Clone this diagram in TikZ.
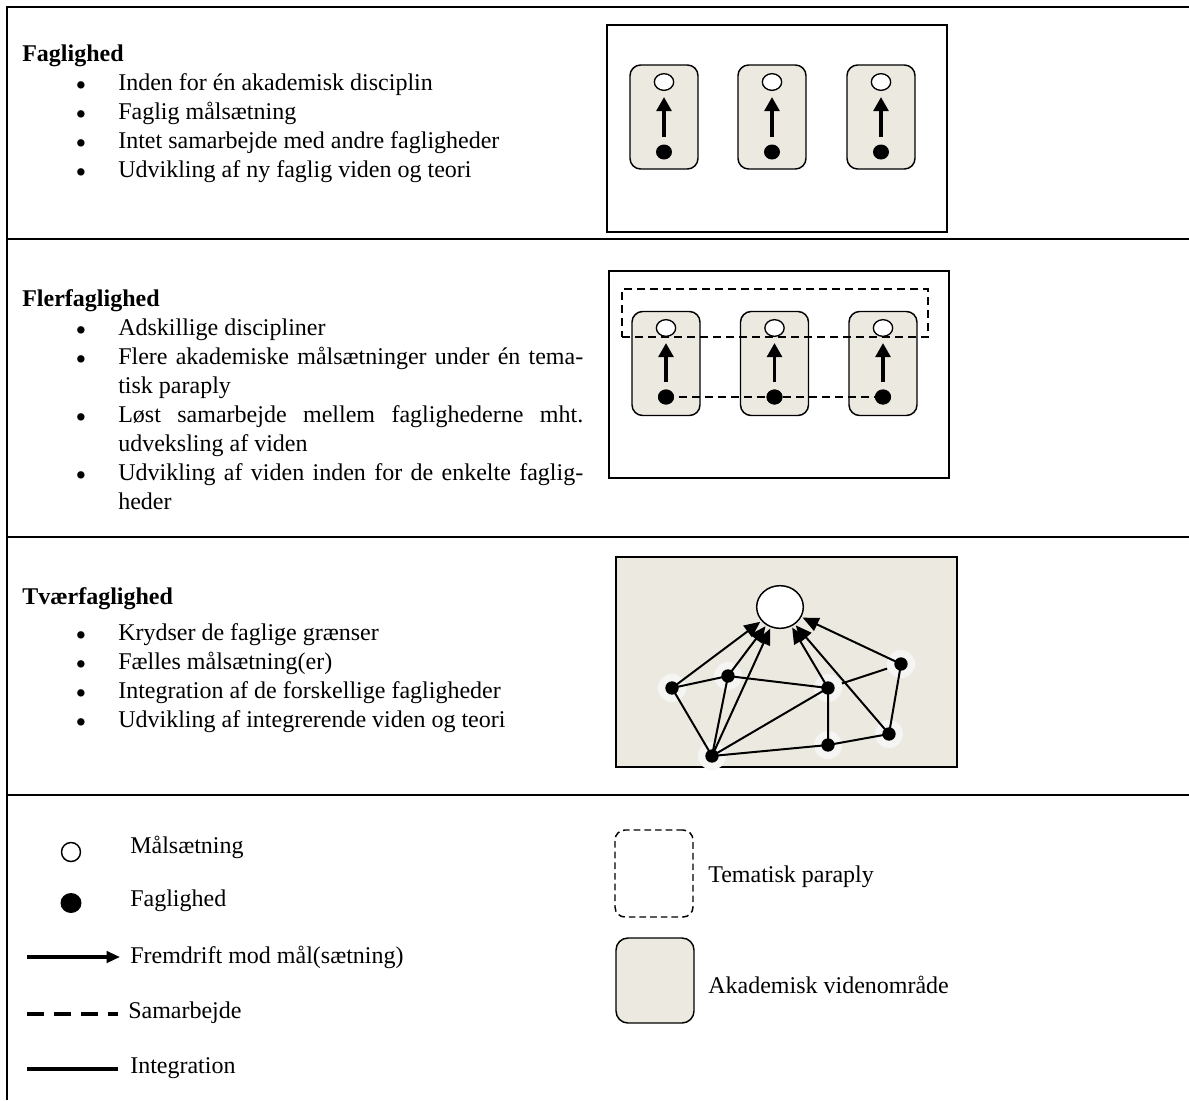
\documentclass[tikz,border=0pt]{standalone}
\usepackage{fontspec}
\setmainfont{Liberation Serif}
\usetikzlibrary{arrows.meta,shapes.geometric}
\definecolor{beige}{HTML}{ECEAE0}
\definecolor{halocol}{HTML}{F5F5F4}
\newcommand\myfs{\fontsize{18}{21.75}\selectfont}
\begin{document}
\begin{tikzpicture}[x=0.75pt,y=-0.75pt,
  rule/.style={line width=1.5pt},
  txt/.style={anchor=base west,inner sep=0pt,font=\myfs},
  bul/.style={anchor=center,inner sep=0pt,font=\fontsize{23}{23}\selectfont},
  frame/.style={draw,line width=1.5pt},
  area/.style={draw,fill=beige,rounded corners=8pt,line width=1.1pt,minimum width=51pt,minimum height=78pt,inner sep=0pt},
  goal/.style={draw,fill=white,ellipse,line width=1pt,inner sep=0pt,minimum width=14.5pt,minimum height=12.5pt},
  dot/.style={fill=black,ellipse,inner sep=0pt,minimum width=12pt,minimum height=11.25pt},
  prog/.style={-{Triangle[length=10.5pt,width=11pt]},line width=2.6pt,shorten >=4.5pt,shorten <=5.6pt},
  umb/.style={draw,line width=1.5pt,dash pattern=on 6pt off 3.75pt},
  halo/.style={circle,fill=halocol,inner sep=0pt,minimum size=21pt},
  gdot/.style={circle,fill=black,inner sep=0pt,minimum size=10pt},
  integ/.style={line width=1.5pt},
  garrow/.style={-{Triangle[length=12pt,width=10.5pt]},line width=1.5pt,shorten >=1pt},
]
\useasboundingbox (0,0) rectangle (1189,1100);

% ---------- table rules ----------
\draw[rule] (7,6) -- (7,1100);
\foreach \yy in {7,239,537,795} \draw[rule] (6.25,\yy) -- (1189,\yy);

% ---------- row 1 text ----------
\node[txt] (h1) at (22,61) {\textbf{Faglighed}};
\foreach \yy/\t [count=\i] in {90/Inden for én akademisk disciplin,119/Faglig målsætning,148/Intet samarbejde med andre fagligheder,177/Udvikling af ny faglig viden og teori}{
  \node[bul] (b1\i) at (81,\yy-1) {•};
  \node[txt] (t1\i) at (118,\yy) {\t};
}

% ---------- row 1 diagram ----------
\node[frame,minimum width=255pt,minimum height=155.25pt,inner sep=0pt] (f1) at (777,128.5) {};
\foreach \xx [count=\i] in {664,772,881}{
  \node[area] (a1\i) at (\xx,117) {};
  \node[goal] (g1\i) at (\xx,82) {};
  \node[dot] (d1\i) at (\xx,152) {};
  \draw[prog] (d1\i) -- (g1\i);
}

% ---------- row 2 text ----------
\node[txt] (h2) at (22,306) {\textbf{Flerfaglighed}};
\node[bul] (b21) at (81,335-1) {•};
\node[txt] (t21) at (118,335) {Adskillige discipliner};
\node[bul] (b22) at (81,364-1) {•};
\node[txt] (t22) at (118,364) {\makebox[348.75pt][s]{Flere akademiske målsætninger under én tema-}};
\node[txt] (t23) at (118,393) {tisk paraply};
\node[bul] (b23) at (81,422-1) {•};
\node[txt] (t24) at (118,422) {\makebox[348.75pt][s]{Løst samarbejde mellem faglighederne mht.}};
\node[txt] (t25) at (118,451) {udveksling af viden};
\node[bul] (b24) at (81,480-1) {•};
\node[txt] (t26) at (118,480) {\makebox[348.75pt][s]{Udvikling af viden inden for de enkelte faglig-}};
\node[txt] (t27) at (118,509) {heder};

% ---------- row 2 diagram ----------
\node[frame,minimum width=255pt,minimum height=155.25pt,inner sep=0pt] (f2) at (779,374.5) {};
\foreach \xx [count=\i] in {666,774.5,883}{
  \node[area] (a2\i) at (\xx,363.5) {};
}
\node[umb,minimum width=229.5pt,minimum height=36pt,inner sep=0pt] (u2) at (775,313) {};
\foreach \xx [count=\i] in {666,774.5,883}{
  \node[dot] (d2\i) at (\xx,397) {};
}
\draw[line width=1.5pt,dash pattern=on 6pt off 3.75pt] (d21.center) -- (d23.center);
\foreach \xx [count=\i] in {666,774.5,883}{
  \node[goal] (g2\i) at (\xx,328) {};
  \node[dot] at (\xx,397) {};
  \draw[prog] (d2\i) -- (g2\i);
}

% ---------- row 3 text ----------
\node[txt] (h3) at (22,604) {\textbf{Tværfaglighed}};
\foreach \yy/\t [count=\i] in {640/Krydser de faglige grænser,669/Fælles målsætning(er),698/Integration af de forskellige fagligheder,727/Udvikling af integrerende viden og teori}{
  \node[bul] (b3\i) at (81,\yy-1) {•};
  \node[txt] (t3\i) at (118,\yy) {\t};
}

% ---------- row 3 diagram ----------
\node[frame,fill=beige,minimum width=255.75pt,minimum height=157.5pt,inner sep=0pt] (f3) at (786.5,662) {};
\foreach \n/\xx/\yy in {A/672/688,B/728/676,C/828/688,D/901/664,E/712/756,F/828/745,G/889/734}{
  \node[halo] (h\n) at (\xx,\yy) {};
  \coordinate (\n) at (\xx,\yy);
}
\node[draw,fill=white,ellipse,line width=1.1pt,inner sep=0pt,minimum width=35pt,minimum height=32pt] (big) at (780,607) {};
\draw[integ] (A) -- (B) (B) -- (C) (A) -- (E) (B) -- (E) (E) -- (C) (E) -- (F) (C) -- (F) (F) -- (G) (G) -- (D);
\draw[integ,shorten <=11pt,shorten >=11pt] (D) -- (C);
\foreach \n in {A,B,E,C,G,D} \draw[garrow] (\n) -- (big);
\foreach \n in {A,B,C,D,E,F,G} \node[gdot] (n\n) at (\n) {};

% ---------- legend ----------
\node[draw,circle,line width=1.1pt,inner sep=0pt,minimum size=14.25pt] (lg) at (71,852) {};
\node[txt] (lgt) at (130,853) {Målsætning};
\node[ellipse,fill=black,inner sep=0pt,minimum width=15.75pt,minimum height=15pt] (ld) at (71,903) {};
\node[txt] (ldt) at (130,906) {Faglighed};
\coordinate (la1) at (27,957);
\coordinate (la2) at (120,957);
\draw[-{Triangle[length=10pt,width=8.5pt]},line width=2.4pt] (la1) -- (la2);
\node[txt] (lat) at (130,963) {Fremdrift mod mål(sætning)};
\coordinate (ls1) at (27,1014);
\coordinate (ls2) at (118,1014);
\draw[line width=2.4pt,dash pattern=on 12.75pt off 7.5pt] (ls1) -- (ls2);
\node[txt] (lst) at (128,1018) {Samarbejde};
\coordinate (li1) at (27,1069);
\coordinate (li2) at (118,1069);
\draw[line width=2.4pt] (li1) -- (li2);
\node[txt] (lit) at (130,1073) {Integration};

\node[draw,rounded corners=7.5pt,line width=1.1pt,dash pattern=on 5pt off 3pt,minimum width=58.5pt,minimum height=65.25pt,inner sep=0pt] (lu) at (654,873.5) {};
\node[txt] (lut) at (708,882) {Tematisk paraply};
\node[draw,fill=beige,rounded corners=9pt,line width=1.1pt,minimum width=58.5pt,minimum height=63.75pt,inner sep=0pt] (la) at (655,980.5) {};
\node[txt] (lat2) at (708,993) {Akademisk videnområde};
\end{tikzpicture}
\end{document}
